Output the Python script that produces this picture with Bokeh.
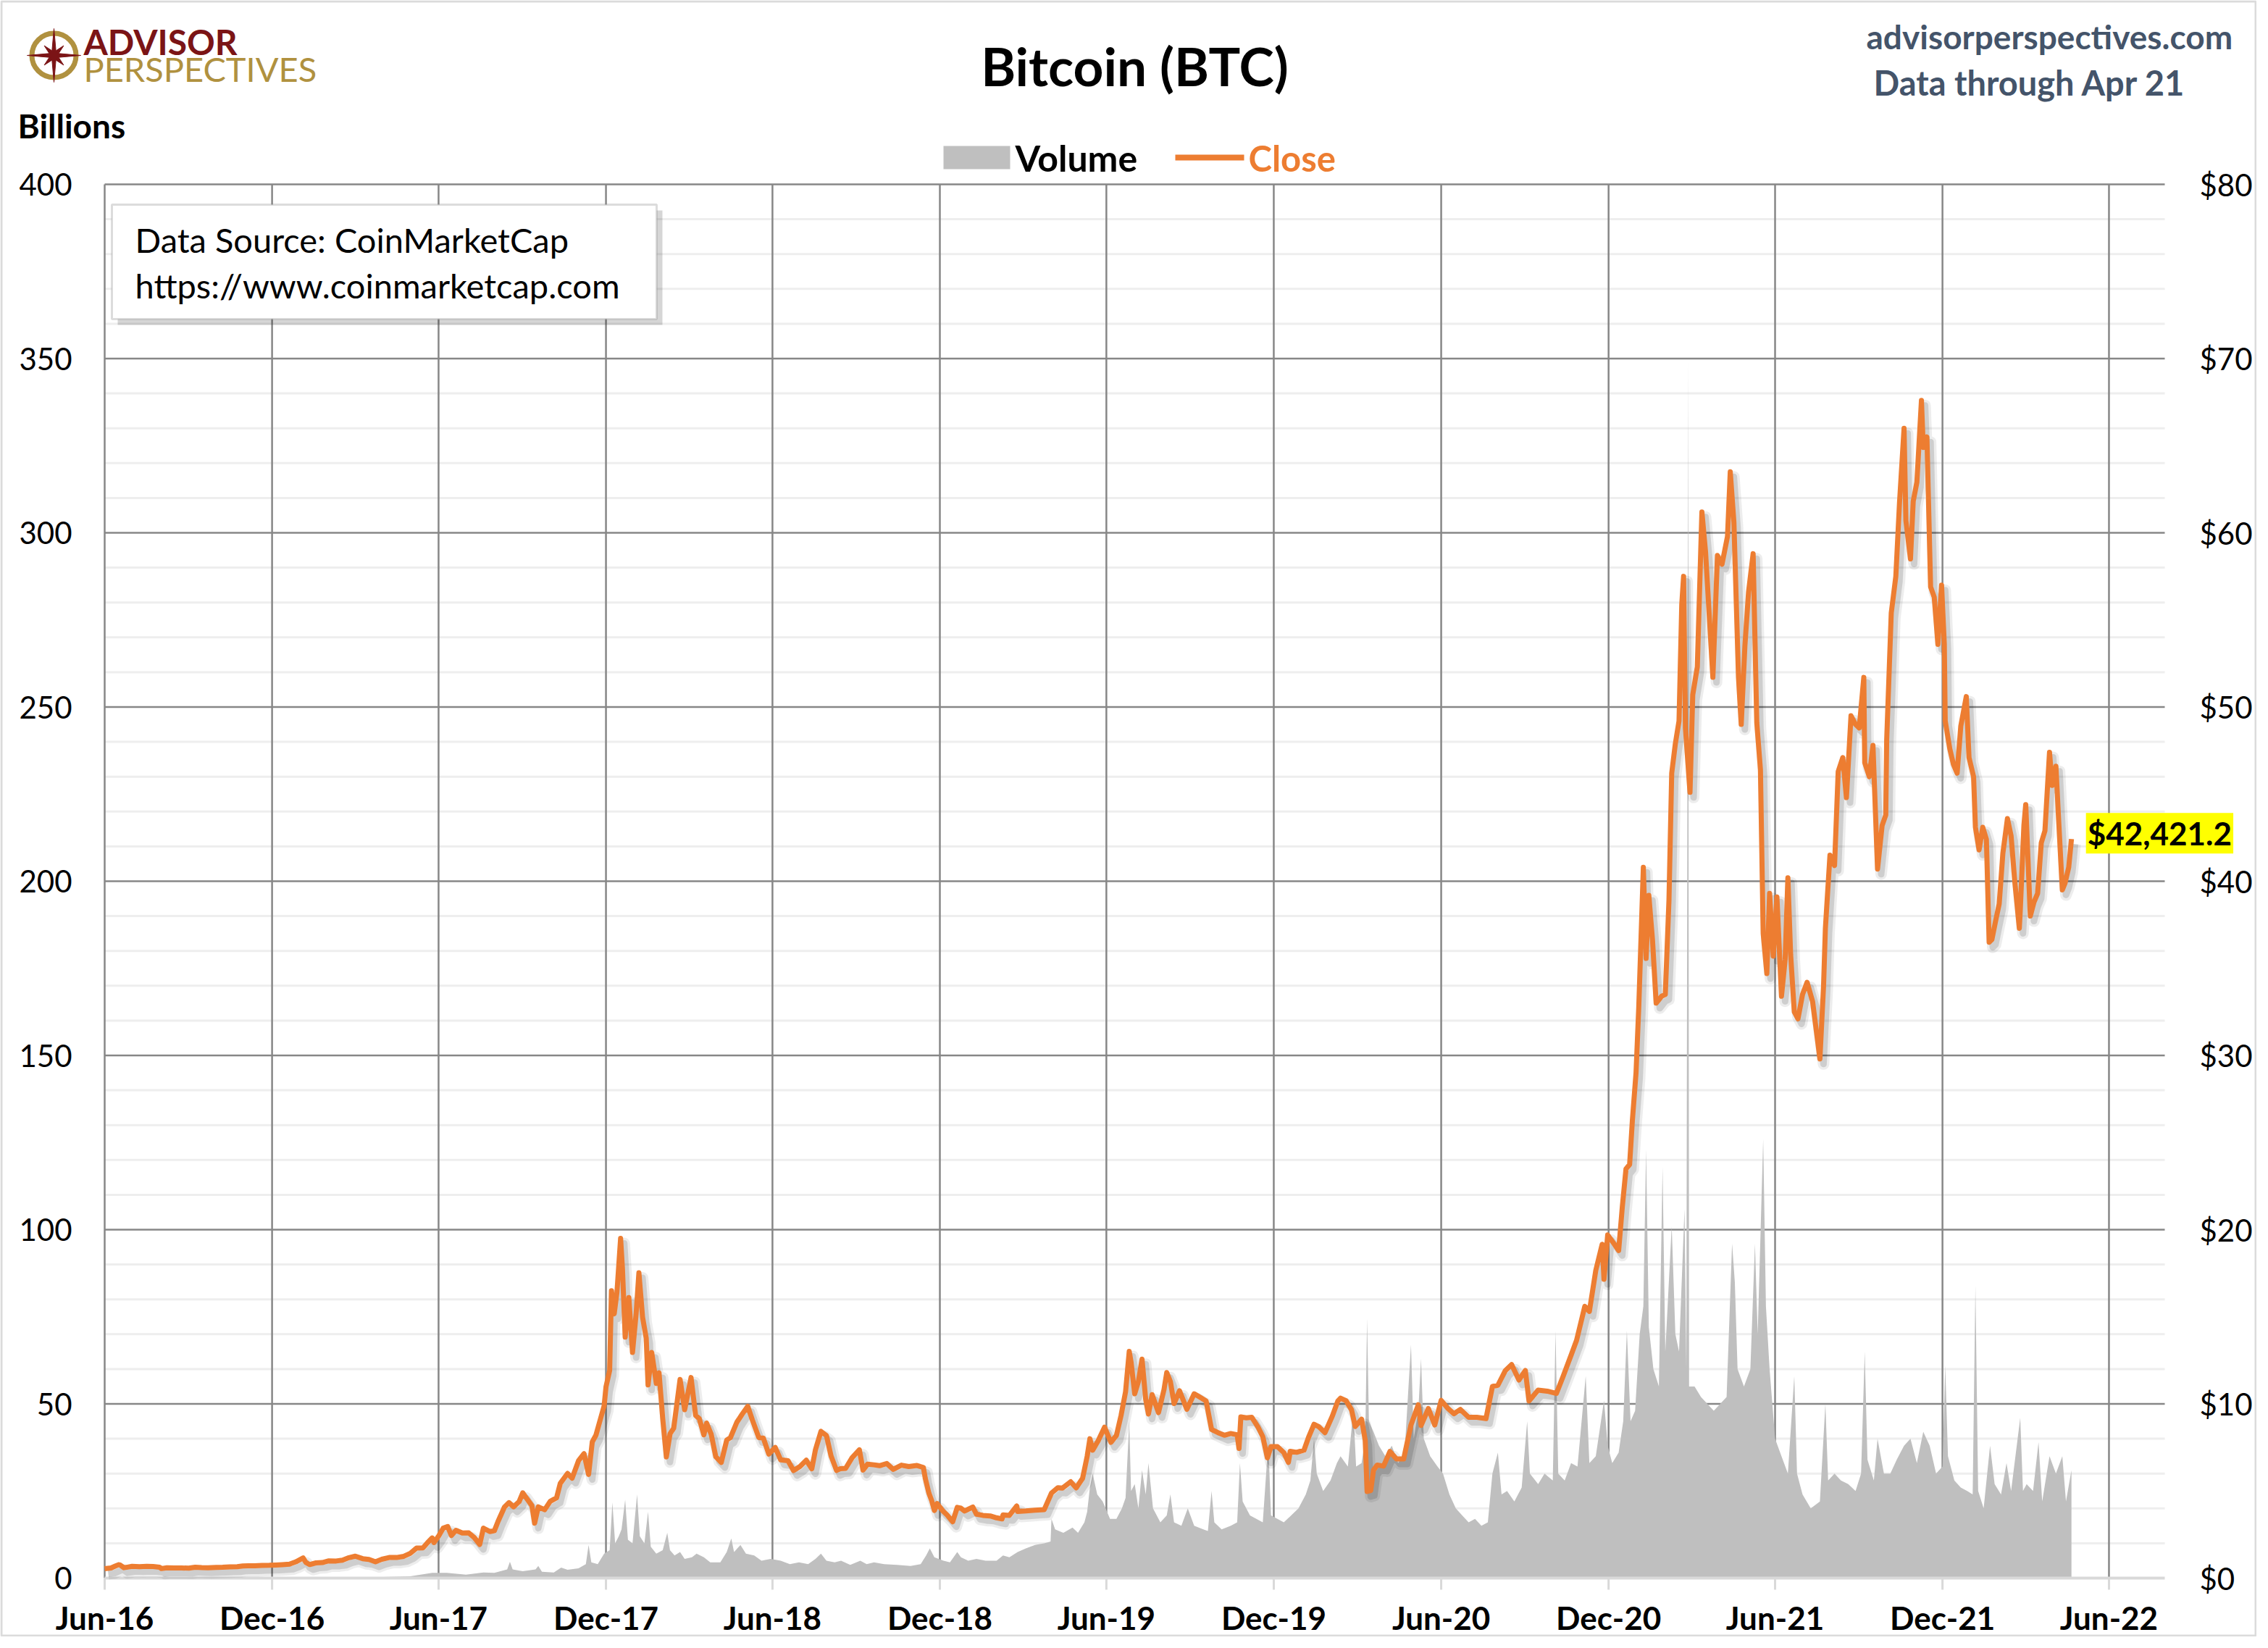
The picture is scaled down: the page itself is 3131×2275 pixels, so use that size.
import math
import pandas as pd
from datetime import datetime
from bokeh.plotting import figure
from bokeh.models import (Range1d, LinearAxis, FixedTicker, NumeralTickFormatter,
                          DatetimeTickFormatter, Label, BoxAnnotation, ColumnDataSource)
from bokeh.embed import file_html
from bokeh.resources import INLINE

# ---------------- data (BTC close in $ thousands, volume in $ billions) ----------------
close_2016 = [("06-01",0.537),("06-08",0.581),("06-12",0.673),("06-16",0.766),("06-18",0.749),("06-22",0.596),
              ("06-26",0.630),("07-01",0.676),("07-09",0.651),("07-17",0.679),("07-24",0.661),("07-31",0.624),
              ("08-02",0.547),("08-08",0.591),("08-16",0.581),("08-24",0.580),("09-01",0.573),("09-08",0.627),
              ("09-15",0.607),("09-22",0.597),("10-01",0.614),("10-08",0.619),("10-16",0.641),("10-24",0.654),
              ("10-30",0.700),("11-05",0.703),("11-12",0.705),("11-20",0.729),("11-28",0.735),("12-05",0.753),
              ("12-12",0.770),("12-20",0.798),("12-27",0.934)]
close_2017 = [("01-04",1.155),("01-07",0.895),("01-11",0.778),("01-18",0.873),("01-25",0.893),("02-01",0.989),
              ("02-09",0.981),("02-16",1.032),("02-23",1.172),("03-02",1.259),("03-10",1.115),("03-17",1.072),
              ("03-24",0.937),("03-31",1.080),("04-08",1.181),("04-16",1.180),("04-24",1.250),("05-01",1.421),
              ("05-08",1.725),("05-15",1.739),("05-20",2.040),("05-25",2.304),("05-27",2.038),("06-01",2.408),
              ("06-06",2.863),("06-11",2.960),("06-15",2.443),("06-20",2.745),("06-27",2.585),("07-04",2.595),
              ("07-10",2.330),("07-16",1.930),("07-20",2.870),("07-27",2.670),("08-01",2.718),("08-05",3.253),
              ("08-12",4.073),("08-17",4.331),("08-22",4.090),("08-28",4.384),("09-01",4.892),("09-05",4.594),
              ("09-11",4.161),("09-14",3.154),("09-18",4.093),("09-25",3.926),("10-01",4.403),("10-08",4.610),
              ("10-12",5.430),("10-20",6.006),("10-25",5.735),("11-01",6.737),("11-07",7.144),("11-12",5.950),
              ("11-16",7.816),("11-20",8.200),("11-26",9.330),("11-29",9.888),("12-01",10.975),("12-05",11.916),
              ("12-07",16.500),("12-10",15.170),("12-13",16.409),("12-17",19.497),("12-19",17.776),("12-22",13.831),
              ("12-26",16.100),("12-30",12.952)]
close_2018 = [("01-03",15.201),("01-06",17.527),("01-10",14.973),("01-14",13.772),("01-16",11.091),("01-20",12.950),
              ("01-25",11.175),("01-28",11.787),("02-01",9.170),("02-05",6.955),("02-09",8.277),("02-13",8.599),
              ("02-20",11.404),("02-25",9.665),("03-04",11.513),("03-09",9.337),("03-13",9.150),("03-18",8.223),
              ("03-21",8.900),("03-26",8.260),("03-31",6.973),("04-06",6.636),("04-12",7.927),("04-16",8.062),
              ("04-23",8.939),("04-29",9.419),("05-05",9.858),("05-10",9.082),("05-17",8.070),("05-22",8.040),
              ("05-28",7.118),("06-04",7.500),("06-10",6.786),("06-18",6.734),("06-24",6.174),("07-01",6.400),
              ("07-08",6.764),("07-14",6.274),("07-18",7.372),("07-24",8.424),("07-30",8.182),("08-04",7.020),
              ("08-10",6.180),("08-14",6.275),("08-20",6.300),("08-27",6.907),("09-04",7.366),("09-08",6.200),
              ("09-13",6.540),("09-20",6.502),("09-26",6.452),("10-04",6.575),("10-11",6.242),("10-20",6.483),
              ("10-28",6.405),("11-06",6.462),("11-13",6.351),("11-15",5.738),("11-19",4.871),("11-22",4.451),
              ("11-25",3.880),("11-28",4.278),("12-04",3.870),("12-09",3.618),("12-15",3.236),("12-20",4.058),
              ("12-24",4.014),("12-28",3.850)]
close_2019 = [("01-06",4.076),("01-10",3.667),("01-17",3.600),("01-25",3.570),("02-01",3.460),("02-07",3.400),
              ("02-08",3.630),("02-15",3.600),("02-23",4.140),("02-24",3.830),("03-05",3.855),("03-15",3.900),
              ("03-25",3.925),("04-02",4.880),("04-09",5.190),("04-14",5.165),("04-23",5.530),("04-29",5.180),
              ("05-06",5.725),("05-11",6.990),("05-14",8.000),("05-17",7.343),("05-23",7.880),("05-30",8.660),
              ("06-06",7.795),("06-12",8.190),("06-17",9.325),("06-22",10.700),("06-26",13.016),("06-28",12.400),
              ("07-02",10.580),("07-06",11.280),("07-10",12.568),("07-14",10.260),("07-17",9.420),("07-21",10.530),
              ("07-28",9.500),("08-03",10.820),("08-06",11.800),("08-10",11.280),("08-14",10.020),("08-20",10.750),
              ("08-28",9.690),("09-05",10.580),("09-12",10.360),("09-18",10.170),("09-24",8.530),("10-01",8.350),
              ("10-08",8.200),("10-15",8.300),("10-22",8.230),("10-24",7.440),("10-26",9.250),("11-01",9.200),
              ("11-07",9.230),("11-14",8.650),("11-19",8.120),("11-24",6.900),("11-28",7.550),("12-05",7.550),
              ("12-12",7.200),("12-17",6.640),("12-19",7.280),("12-26",7.220)]
close_2020 = [("01-03",7.340),("01-08",8.080),("01-14",8.830),("01-19",8.700),("01-26",8.350),("02-03",9.300),
              ("02-09",10.160),("02-12",10.330),("02-18",10.180),("02-24",9.660),("02-28",8.700),("03-06",9.120),
              ("03-10",7.900),("03-12",4.970),("03-16",5.030),("03-19",6.190),("03-23",6.490),("03-30",6.430),
              ("04-06",7.270),("04-13",6.840),("04-21",6.840),("04-29",8.790),("05-07",9.950),("05-10",8.760),
              ("05-18",9.730),("05-25",8.790),("06-01",10.200),("06-08",9.760),("06-15",9.430),("06-22",9.680),
              ("07-01",9.230),("07-10",9.230),("07-20",9.160),("07-27",11.000),("08-02",11.070),("08-10",11.900),
              ("08-17",12.260),("08-25",11.370),("09-01",11.920),("09-05",10.170),("09-15",10.790),("09-25",10.730),
              ("10-05",10.600),("10-12",11.540),("10-21",12.800),("10-27",13.650),("11-05",15.600),("11-10",15.310),
              ("11-17",17.660),("11-24",19.160),("11-26",17.150),("11-30",19.700),("12-07",19.190),("12-12",18.800),
              ("12-16",21.310),("12-20",23.480),("12-24",23.740),("12-27",26.270),("12-31",29.000)]
close_2021 = [("01-03",32.780),("01-08",40.800),("01-11",35.570),("01-14",39.190),("01-18",36.630),("01-22",33.000),
              ("01-28",33.400),("02-01",33.500),("02-05",38.900),("02-08",46.200),("02-12",47.900),("02-16",49.200),
              ("02-19",55.900),("02-21",57.500),("02-23",48.800),("02-28",45.100),("03-03",50.700),("03-08",52.300),
              ("03-13",61.200),("03-17",58.900),("03-22",54.400),("03-25",51.700),("03-30",58.700),("04-04",58.200),
              ("04-10",59.800),("04-13",63.500),("04-17",60.600),("04-22",51.700),("04-25",49.000),("04-29",53.500),
              ("05-03",56.600),("05-08",58.800),("05-12",49.100),("05-16",46.400),("05-19",37.000),("05-23",34.700),
              ("05-26",39.300),("05-30",35.700),("06-03",39.100),("06-08",33.400),("06-12",35.500),("06-15",40.200),
              ("06-18",35.800),("06-22",32.500),("06-26",32.100),("07-01",33.500),("07-06",34.200),("07-12",33.100),
              ("07-20",29.800),("07-24",34.000),("07-26",37.300),("07-31",41.500),("08-05",40.900),("08-09",46.300),
              ("08-14",47.100),("08-18",44.800),("08-23",49.500),("08-28",49.000),("09-01",48.800),("09-06",51.700),
              ("09-07",46.800),("09-12",46.000),("09-16",47.800),("09-21",40.700),("09-26",43.200),("09-30",43.800),
              ("10-01",48.100),("10-06",55.400),("10-11",57.500),("10-15",61.700),("10-20",66.000),("10-22",60.700),
              ("10-27",58.500),("10-30",61.800),("11-03",62.900),("11-08",67.600),("11-10",64.900),("11-14",65.500),
              ("11-18",56.900),("11-22",56.300),("11-26",53.600),("11-30",57.000),("12-03",53.600),("12-04",49.200),
              ("12-09",47.600),("12-13",46.700),("12-17",46.200),("12-21",48.900),("12-27",50.600),("12-30",47.100)]
close_2022 = [("01-04",46.000),("01-06",43.100),("01-10",41.800),("01-14",43.100),("01-18",42.400),("01-21",36.500),
              ("01-24",36.650),("01-28",37.700),("02-01",38.700),("02-05",41.600),("02-10",43.600),("02-14",42.600),
              ("02-18",40.000),("02-23",37.300),("02-24",38.300),("02-28",43.200),("03-02",44.400),("03-07",38.000),
              ("03-11",38.800),("03-15",39.300),("03-19",42.200),("03-23",42.900),("03-28",47.400),("03-31",45.500),
              ("04-04",46.600),("04-07",43.500),("04-11",39.500),("04-14",39.900),("04-18",40.800),("04-21",42.4212)]

vol_2016 = [("06-01",0.10),("07-01",0.10),("08-02",0.15),("09-01",0.08),("10-01",0.08),("11-01",0.10),("12-01",0.10)]
vol_2017 = [("01-05",0.30),("02-01",0.20),("03-01",0.30),("04-01",0.30),("05-01",0.50),("05-25",1.50),("06-10",1.50),
            ("07-01",1.00),("07-20",1.60),("08-01",1.50),("08-15",2.50),("08-18",4.70),("08-21",2.50),("09-01",2.00),
            ("09-15",2.50),("09-18",3.50),("09-22",1.80),("10-05",1.60),("10-13",3.00),("10-20",2.40),("11-01",2.80),
            ("11-09",4.00),("11-12",9.50),("11-15",4.50),("11-22",4.00),("11-29",7.00),("12-05",8.00),("12-08",21.7),
            ("12-11",10.0),("12-15",12.0),("12-18",14.0),("12-22",22.5),("12-25",11.0),("12-30",10.0)]
vol_2018 = [("01-04",24.0),("01-07",12.0),("01-12",10.0),("01-16",19.0),("01-19",9.0),("01-25",7.0),("02-01",8.0),
            ("02-06",13.0),("02-09",8.0),("02-14",6.5),("02-20",7.5),("02-25",5.5),("03-05",6.0),("03-10",7.0),
            ("03-18",6.0),("03-25",4.5),("04-05",4.5),("04-12",7.5),("04-17",11.4),("04-20",7.5),("04-27",9.5),
            ("05-03",7.0),("05-12",6.5),("05-20",5.0),("05-30",5.5),("06-10",5.0),("06-20",4.0),("06-30",4.5),
            ("07-10",4.0),("07-18",5.5),("07-24",7.0),("07-30",5.0),("08-08",4.5),("08-15",5.0),("08-25",3.8),
            ("09-05",5.0),("09-12",4.0),("09-20",4.5),("10-01",4.0),("10-15",3.8),("10-30",3.5),("11-10",4.0),
            ("11-16",6.5),("11-20",8.5),("11-25",6.0),("12-05",5.0),("12-12",4.5),("12-20",7.5),("12-24",6.0)]
vol_2019 = [("01-01",5.0),("01-10",5.5),("01-20",5.0),("02-01",5.0),("02-08",6.5),("02-15",6.0),("02-24",7.5),
            ("03-05",8.5),("03-15",9.5),("03-25",10.0),("04-01",10.5),("04-02",17.0),("04-06",14.0),("04-15",13.0),
            ("04-25",14.5),("05-01",13.0),("05-08",16.0),("05-11",19.0),("05-14",26.0),("05-17",30.0),("05-22",24.0),
            ("05-28",22.0),("06-05",17.0),("06-12",17.0),("06-18",20.0),("06-22",23.0),("06-26",45.0),("06-28",25.0),
            ("07-02",27.0),("07-06",20.0),("07-10",31.0),("07-14",24.0),("07-17",33.0),("07-22",20.0),("07-30",16.0),
            ("08-06",18.0),("08-10",24.0),("08-14",16.0),("08-22",15.0),("08-29",20.0),("09-05",15.0),("09-15",14.0),
            ("09-20",13.5),("09-24",25.0),("09-27",16.0),("10-05",14.0),("10-15",15.0),("10-22",16.0),("10-25",33.0),
            ("10-28",22.0),("11-05",18.0),("11-12",17.0),("11-19",16.0),("11-25",39.0),("11-28",18.0),("12-05",17.0),
            ("12-12",16.0),("12-20",18.0),("12-28",20.0)]
vol_2020 = [("01-05",24.0),("01-10",28.0),("01-14",40.0),("01-17",30.0),("01-24",25.0),("02-01",28.0),("02-08",33.0),
            ("02-12",35.0),("02-20",32.0),("02-26",48.0),("02-29",32.0),("03-06",33.0),("03-10",40.0),("03-12",74.5),
            ("03-14",45.0),("03-19",42.0),("03-25",38.0),("04-01",35.0),("04-08",38.0),("04-15",33.0),("04-22",36.0),
            ("04-29",67.0),("05-02",40.0),("05-07",48.0),("05-10",63.0),("05-13",40.0),("05-20",35.0),("05-28",32.0),
            ("06-03",30.0),("06-10",24.0),("06-17",20.0),("06-24",18.0),("07-01",16.0),("07-08",17.0),("07-15",15.0),
            ("07-22",16.0),("07-27",30.0),("08-02",36.0),("08-06",24.0),("08-12",25.0),("08-20",22.0),("08-28",26.0),
            ("09-03",45.0),("09-06",30.0),("09-15",27.0),("09-22",30.0),("10-01",28.0),("10-04",71.0),("10-07",30.0),
            ("10-14",28.0),("10-21",33.0),("10-28",32.0),("11-06",58.0),("11-10",33.0),("11-17",35.0),("11-26",51.0),
            ("11-30",38.0),("12-05",33.0),("12-12",36.0),("12-17",45.0),("12-21",71.0),("12-25",45.0),("12-30",48.0)]
vol_2021 = [("01-04",70.0),("01-08",78.0),("01-11",123.0),("01-14",72.0),("01-19",60.0),("01-25",55.0),("01-29",118.0),
            ("02-01",65.0),("02-08",101.0),("02-12",70.0),("02-16",65.0),("02-22",106.0),("02-24",60.0),("02-26",350.0),
            ("02-27",55.0),("03-05",55.0),("03-12",52.0),("03-19",50.0),("03-26",48.0),("04-02",50.0),("04-09",52.0),
            ("04-15",96.0),("04-18",85.0),("04-21",60.0),("04-28",55.0),("05-05",60.0),("05-10",96.0),("05-13",70.0),
            ("05-19",126.0),("05-22",78.0),("05-26",60.0),("06-01",40.0),("06-08",35.0),("06-15",30.0),("06-22",58.0),
            ("06-25",30.0),("07-01",24.0),("07-10",20.0),("07-20",22.0),("07-26",50.0),("07-29",28.0),("08-05",30.0),
            ("08-12",28.0),("08-20",27.0),("08-28",25.0),("09-03",30.0),("09-07",65.0),("09-10",34.0),("09-17",28.0),
            ("09-21",40.0),("09-28",30.0),("10-05",30.0),("10-12",34.0),("10-20",38.0),("10-27",40.0),("11-03",33.0),
            ("11-10",42.0),("11-17",38.0),("11-24",30.0),("12-01",32.0),("12-04",61.0),("12-07",35.0),("12-14",28.0),
            ("12-21",26.0),("12-28",25.0)]
vol_2022 = [("01-03",24.0),("01-06",84.0),("01-09",25.0),("01-15",20.0),("01-22",38.0),("01-27",27.0),("02-03",24.0),
            ("02-09",33.0),("02-14",25.0),("02-24",46.0),("02-27",25.0),("03-03",27.0),("03-10",25.0),("03-16",39.0),
            ("03-20",22.0),("03-28",35.0),("04-04",30.0),("04-11",35.0),("04-15",22.0),("04-21",31.0)]

tick_labels_dates = ["2016-06-01","2016-12-01","2017-06-01","2017-12-01","2018-06-01","2018-12-01",
                     "2019-06-01","2019-12-01","2020-06-01","2020-12-01","2021-06-01","2021-12-01","2022-06-01"]
left_ticks = [0, 50, 100, 150, 200, 250, 300, 350, 400]
right_ticks = [0, 10, 20, 30, 40, 50, 60, 70, 80]
last_close = 42421.2

# ---------------- assemble ----------------
def build(groups):
    d, v = [], []
    for year, rows in groups:
        for md, val in rows:
            d.append(pd.Timestamp(f"{year}-{md}"))
            v.append(val)
    return d, v

close_dates, close_vals = build([(2016, close_2016), (2017, close_2017), (2018, close_2018), (2019, close_2019),
                                 (2020, close_2020), (2021, close_2021), (2022, close_2022)])
vol_dates, vol_vals = build([(2016, vol_2016), (2017, vol_2017), (2018, vol_2018), (2019, vol_2019),
                             (2020, vol_2020), (2021, vol_2021), (2022, vol_2022)])

# ---------------- layout geometry (page pixels) ----------------
FONT = "Lato"
W, H = 3115, 2259
FL, FR, FT, FBm = 0, 0, 0, 0           # the frame covers the whole canvas
FRAME_B = H - FBm                      # page y of the frame bottom
PL, PR, PT, P0 = 144, 2988, 254, 2178  # plot area: left, right, top (=400), bottom (=0)

x0 = datetime(2016, 6, 1)
xv1 = datetime(2022, 8, 1)
px_per_day = (PR - PL) / (xv1 - x0).days
DAY = 86400000.0
ms = lambda d: pd.Timestamp(d).value / 1e6
ms0 = ms(x0)

def X(px):       # page x -> datetime ms
    return ms0 + (px - PL) / px_per_day * DAY
B_PER_PX = 400.0 / (P0 - PT)
P_PER_PX = 80.0 / (P0 - PT)
def Y(py):       # page y -> billions
    return (P0 - py) * B_PER_PX
def P(py):       # page y -> $ thousands
    return (P0 - py) * P_PER_PX
def SX(px):
    return px - FL
def SY(py):
    return FRAME_B - py

sh_dx = 5.0 / px_per_day * DAY
sh_dy = 7.0 * P_PER_PX

p = figure(width=W, height=H, x_axis_type="datetime",
           x_range=Range1d(X(FL), X(W - FR)), y_range=Range1d(Y(FRAME_B), Y(FT)),
           output_backend="svg", toolbar_location=None,
           min_border_left=FL, min_border_right=FR, min_border_top=FT, min_border_bottom=FBm,
           background_fill_color="white", border_fill_color="white", outline_line_color=None)
p.extra_y_ranges = {"price": Range1d(P(FRAME_B), P(FT)),
                    "psh": Range1d(P(FRAME_B) + sh_dy, P(FT) + sh_dy)}
p.extra_x_ranges = {"xsh": Range1d(X(FL) - sh_dx, X(W - FR) - sh_dx)}
p.grid.visible = False

tick_ms = [ms(t) for t in tick_labels_dates]

# x axis: labels only (line and ticks drawn below), placed so the labels sit under the plot area
xa = p.xaxis[0]
xa.ticker = FixedTicker(ticks=tick_ms)
xa.formatter = DatetimeTickFormatter(days="%b-%y", months="%b-%y", years="%b-%y", hours="%b-%y",
                                     minutes="%b-%y", seconds="%b-%y", milliseconds="%b-%y", microseconds="%b-%y")
xa.fixed_location = Y(FRAME_B)
xa.axis_line_color = None
xa.major_tick_line_color = None
xa.minor_tick_line_color = None
xa.major_tick_out = 0
xa.major_tick_in = 0
xa.major_label_text_font = FONT
xa.major_label_text_font_size = "44px"
xa.major_label_text_font_style = "bold"
xa.major_label_text_color = "black"
xa.major_label_standoff = (P0 + 28) - FRAME_B

# left axis: labels right-aligned at x=99
ya = p.yaxis[0]
ya.ticker = FixedTicker(ticks=left_ticks)
ya.fixed_location = X(25)
ya.axis_line_color = None
ya.major_tick_line_color = None
ya.minor_tick_line_color = None
ya.major_tick_out = 0
ya.major_tick_in = 0
ya.major_label_text_font = FONT
ya.major_label_text_font_size = "42px"
ya.major_label_text_color = "black"
ya.major_label_standoff = -74

# right axis ($ thousands), labels left-aligned at x=3036
ra = LinearAxis(y_range_name="price", ticker=FixedTicker(ticks=right_ticks),
                formatter=NumeralTickFormatter(format="$0"))
ra.fixed_location = X(W - FR)
ra.axis_line_color = None
ra.major_tick_line_color = None
ra.minor_tick_line_color = None
ra.major_tick_out = 0
ra.major_tick_in = 0
ra.major_label_text_font = FONT
ra.major_label_text_font_size = "42px"
ra.major_label_text_color = "black"
ra.major_label_standoff = 3036 - (W - FR)
p.add_layout(ra, "right")

# grid lines limited to the plot area, drawn from the tick lists
minor_y = [t for t in range(10, 400, 10) if t % 50 != 0]
major_y = [t for t in left_ticks if t > 0]
p.segment(x0=[ms0] * len(minor_y), y0=minor_y, x1=[ms(xv1)] * len(minor_y), y1=minor_y,
          line_color="#EEEEEE", line_width=3, level="underlay")
p.segment(x0=[ms0] * len(major_y), y0=major_y, x1=[ms(xv1)] * len(major_y), y1=major_y,
          line_color="#878787", line_width=2.5, level="underlay")
p.segment(x0=tick_ms, y0=[0] * len(tick_ms), x1=tick_ms, y1=[400] * len(tick_ms),
          line_color="#878787", line_width=2.5, level="underlay")

# series
vsrc = ColumnDataSource(dict(x=vol_dates, v=vol_vals))
csrc = ColumnDataSource(dict(x=close_dates, c=close_vals))
p.varea(x="x", y1=0, y2="v", source=vsrc, fill_color="#BFBFBF", fill_alpha=1.0)

# x axis line and tick marks (light grey)
p.segment(x0=[ms0], y0=[0], x1=[ms(xv1)], y1=[0], line_color="#D9D9D9", line_width=4)
p.segment(x0=tick_ms, y0=[0] * len(tick_ms), x1=tick_ms, y1=[Y(P0 + 16)] * len(tick_ms),
          line_color="#D9D9D9", line_width=3)

p.line(x="x", y="c", source=csrc, x_range_name="xsh", y_range_name="psh",
       line_color="black", line_alpha=0.07, line_width=16, line_join="round")
p.line(x="x", y="c", source=csrc, x_range_name="xsh", y_range_name="psh",
       line_color="black", line_alpha=0.13, line_width=9, line_join="round")
p.line(x="x", y="c", source=csrc, y_range_name="price",
       line_color="#ED7D31", line_width=7, line_join="round")

# ---------------- annotations ----------------
def box(l, t, r, b, **kw):
    p.add_layout(BoxAnnotation(left=SX(l), right=SX(r), top=SY(t), bottom=SY(b),
                               left_units="screen", right_units="screen",
                               top_units="screen", bottom_units="screen", **kw))

def text(px, py, s, size, color="black", style="normal", align="left"):
    p.add_layout(Label(x=SX(px), y=SY(py), x_units="screen", y_units="screen", text=s,
                       text_font=FONT, text_font_size=f"{size}px", text_color=color,
                       text_font_style=style, text_align=align, text_baseline="middle"))

# data source box with shadow
box(162, 290, 914, 448, fill_color="black", fill_alpha=0.16, line_color=None)
box(154, 282, 906, 440, fill_color="white", fill_alpha=1.0, line_color="#8C8C8C", line_width=3)
text(186, 330, "Data Source: CoinMarketCap", 47)
text(186, 393, "https://www.coinmarketcap.com", 47)

# title and notes
text(1566, 90, "Bitcoin (BTC)", 73, style="bold", align="center")
text(24, 173, "Billions", 46, style="bold")
text(2576, 50, "advisorperspectives.com", 46, color="#44546A", style="bold")
text(2586, 113, "Data through Apr 21", 47, color="#44546A", style="bold")

# legend
box(1302, 201, 1394, 233, fill_color="#BFBFBF", fill_alpha=1.0, line_color=None)
text(1401, 217, "Volume", 50, style="bold")
box(1622, 213, 1717, 221, fill_color="#ED7D31", fill_alpha=1.0, line_color=None)
text(1723, 217, "Close", 49, color="#ED7D31", style="bold")

# logo: compass ring + star, wordmark
lcx, lcy = 74, 76
p.scatter(x=[X(lcx)], y=[Y(lcy)], marker="circle", size=61, fill_alpha=0,
          line_color="#B0913F", line_width=7)
sx_, sy_ = [], []
for k in range(16):
    ang = math.pi / 2 - k * math.pi / 8
    r = 37 if k % 4 == 0 else (19 if k % 2 == 0 else 7)
    sx_.append(X(lcx + r * math.cos(ang)))
    sy_.append(Y(lcy - r * math.sin(ang)))
p.patch(x=sx_, y=sy_, fill_color="#7B1416", line_color="#7B1416", line_width=1)
text(115, 57, "ADVISOR", 48, color="#7B1416", style="bold")
text(115, 94, "PERSPECTIVES", 47, color="#B0913F")

# last value label with a soft yellow glow
last_x = ms(close_dates[-1])
base_kw = dict(x=last_x, y=close_vals[-1], y_range_name="price", x_offset=20, y_offset=8,
               text=f"${last_close:,.1f}", text_font=FONT, text_font_size="44px", text_font_style="bold",
               text_baseline="middle", text_align="left")
try:
    glow = Label(padding=8, background_fill_color="#FFFF00", background_fill_alpha=0.35,
                 text_alpha=0.0, **base_kw)
    lab = Label(padding=2, background_fill_color="#FFFF00", text_color="black", **base_kw)
except Exception:
    glow = None
    lab = Label(background_fill_color="#FFFF00", text_color="black", **base_kw)
if glow is not None:
    p.add_layout(glow)
p.add_layout(lab)

# thin grey border round the whole chart
box(1.5, 1.5, W - 1.5, H - 1.5, fill_alpha=0, line_color="#898989", line_width=3)

open("out.html", "w").write(file_html(p, INLINE))
